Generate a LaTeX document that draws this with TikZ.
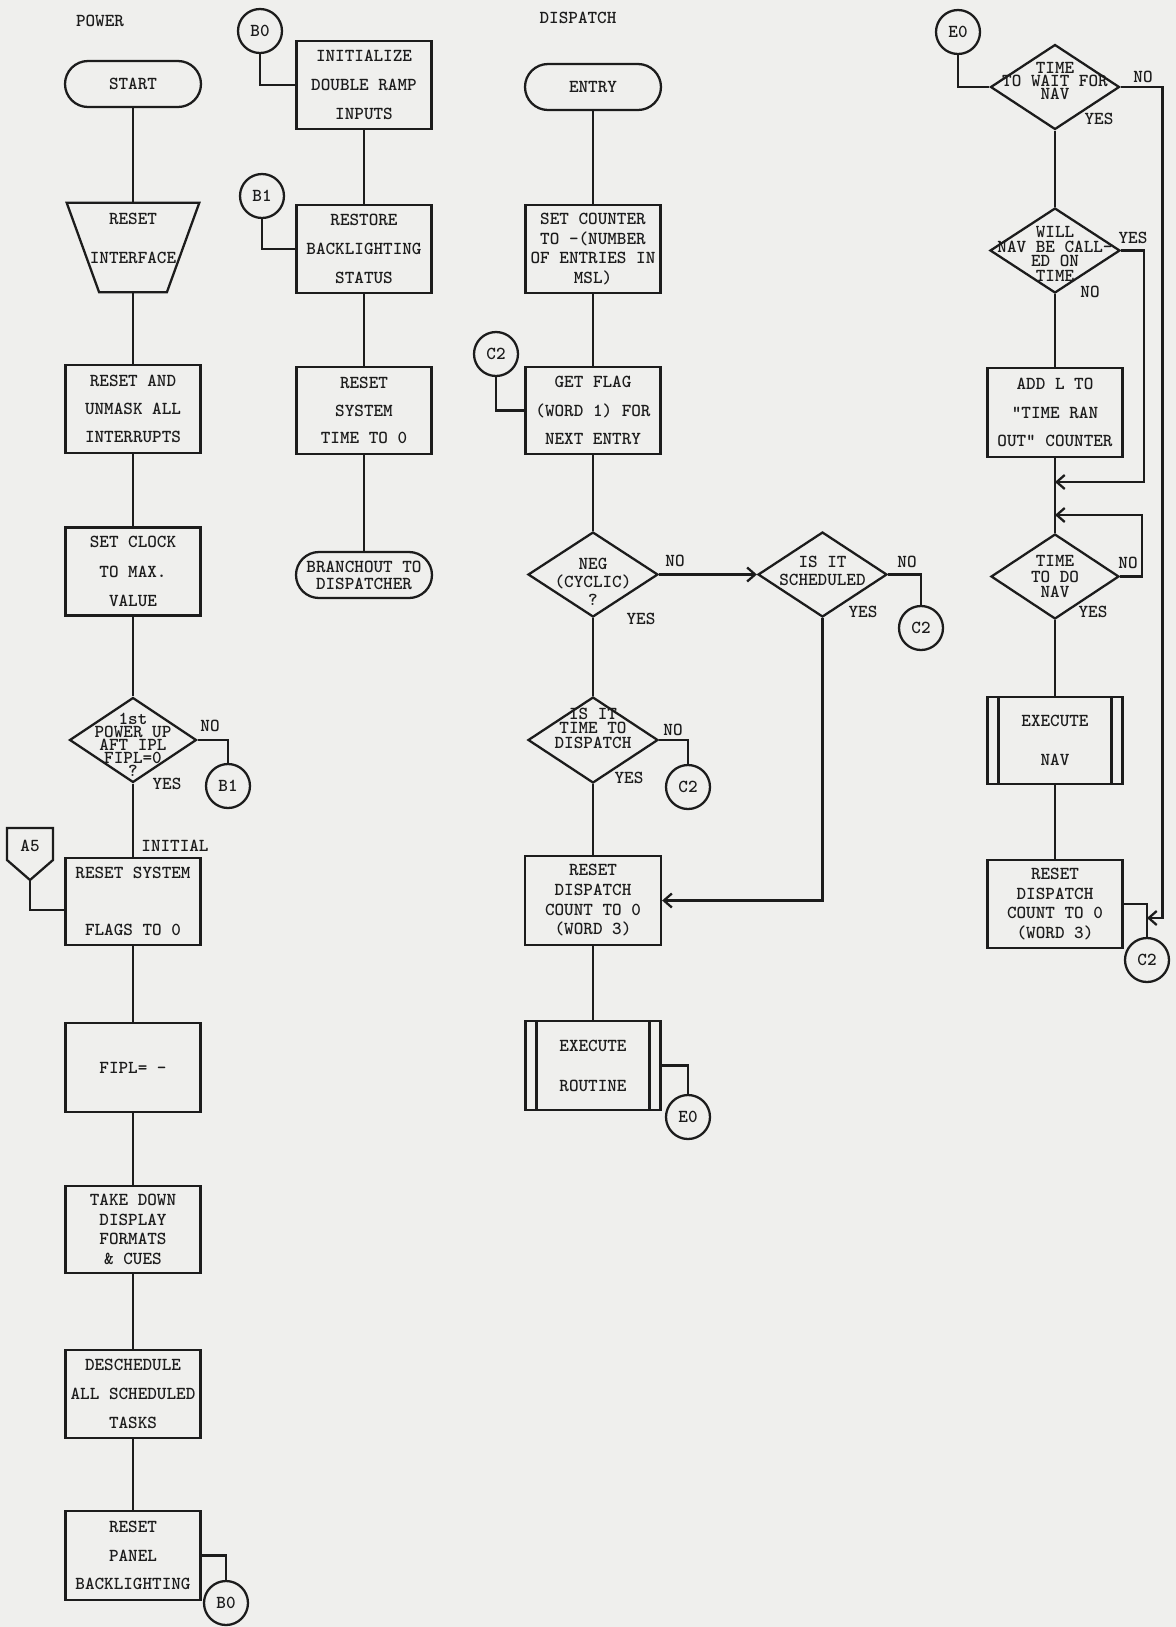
\documentclass[tikz,border=0pt]{standalone}
\usepackage{tikz}
\usetikzlibrary{arrows.meta,calc,positioning,shapes.geometric}
\usepackage{xcolor}
\definecolor{ink}{HTML}{1C1C1C}
\definecolor{paper}{HTML}{EFEFED}
\tikzset{typed/.style={font=\ttfamily\bfseries\fontsize{10.4}{#1}\selectfont},typed/.default=16,flow/.style={draw=ink,line width=1.3pt},procbox/.style={flow,rectangle,minimum width=2.7cm,minimum height=1.76cm,inner sep=0pt,align=center,typed=16.3},termbox/.style={flow,rectangle,rounded corners=0.46cm,minimum width=2.72cm,minimum height=0.92cm,inner sep=0pt,align=center,typed=9.6},subbox/.style={procbox,path picture={\draw[flow] ([xshift=0.22cm]path picture bounding box.north west) -- ([xshift=0.22cm]path picture bounding box.south west); \draw[flow] ([xshift=-0.22cm]path picture bounding box.north east) -- ([xshift=-0.22cm]path picture bounding box.south east);}},decide/.style={flow,diamond,minimum width=2.6cm,minimum height=1.7cm,inner sep=0pt},conn/.style={flow,circle,minimum size=0.88cm,inner sep=0pt,typed},branchlabel/.style={typed,inner sep=0pt}}

\begin{document}
\begin{tikzpicture}[x=0.02cm,y=-0.02cm,>={Straight Barb[length=1.6mm,width=2.8mm]},ink]
\fill[paper] (0,0) rectangle (1176,1627);
% POWER
\node[branchlabel] (powertitle) at (100,21) {POWER};
\node[termbox,typed] (start) at (133,84) {START};
\node[inner sep=0pt,minimum width=2.64cm,minimum height=1.78cm,label={[typed=22,align=center,yshift=0.18cm]center:{RESET\\INTERFACE}}] (resetif) at (133,247.5) {};
\draw[flow] (resetif.north west) -- (resetif.north east) -- ([xshift=-0.65cm]resetif.south east) -- ([xshift=0.65cm]resetif.south west) -- cycle;
\node[procbox,typed=15.9] (unmask) at (133,409) {RESET AND\\UNMASK ALL\\INTERRUPTS};
\node[procbox,typed=16.7] (clock) at (133,571.5) {SET CLOCK\\TO MAX.\\VALUE};
\node[decide,minimum width=2.54cm,label={[typed=7.4,align=center,yshift=-0.1cm]center:{1st\\POWER UP\\AFT IPL\\FIPL=0\\?}}] (firstup) at (133,740) {};
\node[procbox,minimum height=1.74cm] (sysflags) at (133,901.5) {RESET SYSTEM\\[0.58cm]FLAGS TO 0};
\node[procbox,minimum height=1.78cm] (fiplset) at (133,1067.5) {FIPL= -};
\node[procbox,minimum height=1.74cm,typed=11.2] (takedown) at (133,1229.5) {TAKE DOWN\\DISPLAY\\FORMATS\\\& CUES};
\node[procbox,typed=16.7] (desched) at (133,1394) {DESCHEDULE\\ALL SCHEDULED\\TASKS};
\node[procbox,minimum height=1.78cm,typed=16.4] (panel) at (133,1555.5) {RESET\\PANEL\\BACKLIGHTING};
\node[conn] (boneout) at (228,786) {B1};
\node[conn] (bzeroout) at (226,1603) {B0};
\node[branchlabel] (a5) at (30,846) {A5};
\coordinate (a5tip) at (30,880);
\node[branchlabel] (firstno) at (210,726) {NO};
\node[branchlabel] (firstyes) at (167,784) {YES};
\node[branchlabel] (initial) at (175,846) {INITIAL};
\draw[flow] (start) -- (resetif);
\draw[flow] (resetif) -- (unmask);
\draw[flow] (unmask) -- (clock);
\draw[flow] (clock) -- (firstup);
\draw[flow] (firstup) -- (sysflags);
\draw[flow] (sysflags) -- (fiplset);
\draw[flow] (fiplset) -- (takedown);
\draw[flow] (takedown) -- (desched);
\draw[flow] (desched) -- (panel);
\draw[flow] (firstup.east) -| (boneout.north);
\draw[flow] (panel.east) -| (bzeroout.north);
\draw[flow] (a5) ++(-23,-18) -- ++(46,0) -- ++(0,32) -- ++(-23,20) -- ++(-23,-20) -- cycle;
\draw[flow] (a5tip) |- ([yshift=-0.17cm]sysflags.west);
% B entries
\node[conn] (bzero) at (260,31) {B0};
\node[procbox] (initramp) at (364,85) {INITIALIZE\\DOUBLE RAMP\\INPUTS};
\node[conn] (bone) at (262,196) {B1};
\node[procbox] (restore) at (364,249) {RESTORE\\BACKLIGHTING\\STATUS};
\node[procbox,minimum height=1.74cm,typed=15.6] (systime) at (364,410.5) {RESET\\SYSTEM\\TIME TO 0};
\node[termbox] (branchout) at (364,575) {BRANCHOUT TO\\DISPATCHER};
\draw[flow] (bzero.south) |- (initramp.west);
\draw[flow] (initramp) -- (restore);
\draw[flow] (bone.south) |- (restore.west);
\draw[flow] (restore) -- (systime);
\draw[flow] (systime) -- (branchout);
% DISPATCH
\node[branchlabel] (disptitle) at (578,18) {DISPATCH};
\node[termbox,typed] (entry) at (593,87) {ENTRY};
\node[procbox,typed=11.3] (counter) at (593,249) {SET COUNTER\\TO -(NUMBER\\OF ENTRIES IN\\MSL)};
\node[conn] (ctwoa) at (496,354) {C2};
\node[procbox,minimum height=1.74cm] (getflag) at (593,410.5) {GET FLAG\\(WORD 1) FOR\\NEXT ENTRY};
\node[decide,label={[typed=10.2,align=center,yshift=-0.15cm]center:{NEG\\(CYCLIC)\\?}}] (neg) at (593,574.5) {};
\node[decide,minimum width=2.58cm,label={[typed=10.2,align=center,yshift=0.07cm]center:{IS IT\\SCHEDULED}}] (sched) at (822.5,574.5) {};
\node[conn] (ctwob) at (921,628) {C2};
\node[decide,minimum height=1.72cm,label={[typed=8.2,align=center,yshift=0.24cm]center:{IS IT\\TIME TO\\DISPATCH}}] (timedisp) at (593,740) {};
\node[conn] (ctwoc) at (688,787) {C2};
\node[procbox,minimum width=2.72cm,minimum height=1.78cm,typed=11.2] (rdisp) at (593,900.5) {RESET\\DISPATCH\\COUNT TO 0\\(WORD 3)};
\node[subbox,minimum height=1.78cm,typed=22.7] (routine) at (593,1065.5) {EXECUTE\\ROUTINE};
\node[conn] (ezeroout) at (688,1117) {E0};
\node[branchlabel] (negno) at (675,561) {NO};
\node[branchlabel] (negyes) at (641,619) {YES};
\node[branchlabel] (schedno) at (907,562) {NO};
\node[branchlabel] (schedyes) at (863,612) {YES};
\node[branchlabel] (timeno) at (673,730) {NO};
\node[branchlabel] (timeyes) at (629,778) {YES};
\draw[flow] (entry) -- (counter);
\draw[flow] (counter) -- (getflag);
\draw[flow] (ctwoa.south) |- (getflag.west);
\draw[flow] (getflag) -- (neg);
\draw[flow,->] (neg.east) -- (sched.west);
\draw[flow] (sched.east) -| (ctwob.north);
\draw[flow,->] (sched.south) |- (rdisp.east);
\draw[flow] (neg) -- (timedisp);
\draw[flow] (timedisp.east) -| (ctwoc.north);
\draw[flow] (timedisp) -- (rdisp);
\draw[flow] (rdisp) -- (routine);
\draw[flow] (routine.east) -| (ezeroout.north);
% NAV wait
\node[conn] (ezero) at (958,32) {E0};
\node[decide,minimum width=2.58cm,label={[typed=7.4,align=center,yshift=0.12cm]center:{TIME\\TO WAIT FOR\\NAV}}] (waitnav) at (1055,87) {};
\node[decide,label={[typed=8.2,align=center,yshift=-0.07cm]center:{WILL\\NAV BE CALL-\\ED ON\\TIME}}] (callednav) at (1055,250.5) {};
\node[procbox,minimum height=1.78cm,typed=16.2] (addone) at (1055,412.5) {ADD L TO\\"TIME RAN\\OUT" COUNTER};
\node[decide,minimum width=2.56cm,label={[typed=9,align=center]center:{TIME\\TO DO\\NAV}}] (donav) at (1055,576.5) {};
\node[subbox,minimum height=1.74cm,typed=22] (execnav) at (1055,740.5) {EXECUTE\\NAV};
\node[procbox,typed=11.3] (rdispnav) at (1055,904) {RESET\\DISPATCH\\COUNT TO 0\\(WORD 3)};
\node[conn] (ctwod) at (1147,960) {C2};
\coordinate (yesjoin) at (1055,482);
\coordinate (nojoin) at (1055,515);
\coordinate (waitjoin) at (1147,918);
\node[branchlabel] (waitno) at (1143,77) {NO};
\node[branchlabel] (waityes) at (1099,119) {YES};
\node[branchlabel] (calledyes) at (1133,238) {YES};
\node[branchlabel] (calledno) at (1090,292) {NO};
\node[branchlabel] (donavno) at (1128,563) {NO};
\node[branchlabel] (donavyes) at (1093,612) {YES};
\draw[flow] (ezero.south) |- (waitnav.west);
\draw[flow,->] (waitnav.east) -- ++(42,0) |- (waitjoin);
\draw[flow] (waitnav) -- (callednav);
\draw[flow,->] (callednav.east) -- ++(23,0) |- (yesjoin);
\draw[flow] (callednav) -- (addone);
\draw[flow] (addone) -- (donav);
\draw[flow,->] (donav.east) -- ++(22,0) |- (nojoin);
\draw[flow] (donav) -- (execnav);
\draw[flow] (execnav) -- (rdispnav);
\draw[flow] (rdispnav.east) -| (ctwod.north);
\end{tikzpicture}
\end{document}
